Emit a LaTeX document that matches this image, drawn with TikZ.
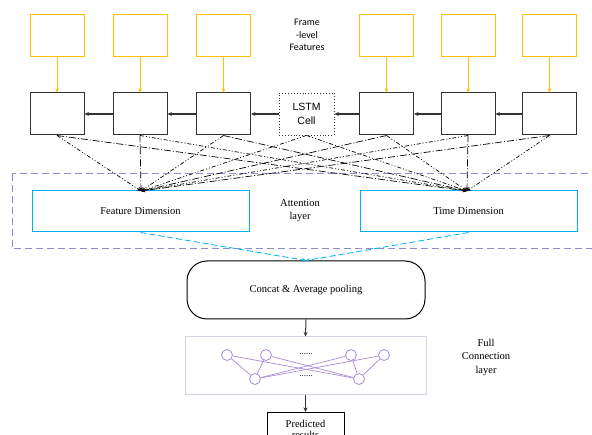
\documentclass[tikz,border=0pt]{standalone}
\usepackage{fontspec}
\setmainfont{Liberation Serif}
\newfontfamily\carl{Carlito}
\newfontfamily\arialf{Liberation Sans}
\usetikzlibrary{arrows.meta}
\definecolor{featyel}{HTML}{FFC000}
\definecolor{attcyan}{HTML}{00B0F0}
\definecolor{attpurp}{HTML}{8C8CCC}
\definecolor{nnpurp}{HTML}{A98BD3}
\definecolor{fcgray}{HTML}{D6D2E4}
\definecolor{boxgray}{HTML}{333333}
\tikzset{
  featbox/.style={draw=featyel, line width=0.9pt, minimum width=54pt, minimum height=42pt, inner sep=0pt},
  cellbox/.style={draw=boxgray, line width=1pt, minimum width=54pt, minimum height=42pt, inner sep=0pt},
  lstmbox/.style={draw=boxgray, dotted, line width=0.9pt, minimum width=55pt, minimum height=42pt, inner sep=0pt, font=\arialf\fontsize{10.5}{14}\selectfont, align=center},
  yarrow/.style={draw=featyel, line width=0.8pt, -{Stealth[length=4pt,width=3.5pt]}},
  harrow/.style={draw=boxgray, line width=1.2pt, -{Stealth[length=4.5pt,width=4pt]}},
  connA/.style={black, line width=0.7pt, dash pattern=on 4pt off 2pt on 1pt off 2pt on 1pt off 2pt, -{Stealth[length=4pt,width=3.5pt]}},
  connB/.style={black, line width=0.7pt, dash pattern=on 7pt off 2pt on 1pt off 2pt, -{Stealth[length=4pt,width=3.5pt]}},
  dimbox/.style={draw=attcyan, line width=1pt, minimum width=217pt, minimum height=41pt, inner sep=0pt, font=\fontsize{10.5}{13}\selectfont},
  cyarrow/.style={draw=attcyan, line width=0.8pt, dash pattern=on 6pt off 3pt, -{Stealth[length=4pt,width=3.5pt]}},
  plainarrow/.style={draw=boxgray, line width=1pt, -{Stealth[length=4.5pt,width=4pt]}},
  neuron/.style={circle, draw=nnpurp, line width=0.8pt, minimum size=11pt, inner sep=0pt},
  nnline/.style={draw=nnpurp, line width=0.7pt},
  lbl/.style={align=center, font=\fontsize{10.5}{13}\selectfont}
}
\begin{document}
\begin{tikzpicture}[x=1pt,y=-1pt]
\clip (0,0) rectangle (592,435);
\fill[white] (0,0) rectangle (592,435);

% frame-level feature boxes
\node[featbox] (f1) at (57,35) {};
\node[featbox] (f2) at (140,35) {};
\node[featbox] (f3) at (223.5,35) {};
\node[featbox] (f5) at (386.5,35) {};
\node[featbox] (f6) at (468,35) {};
\node[featbox] (f7) at (549.5,35) {};
\node[align=center, font=\carl\fontsize{10}{12.5}\selectfont] (ftxt) at (307,35) {Frame\\-level\\Features};

% LSTM cells
\node[cellbox] (c1) at (57,114) {};
\node[cellbox] (c2) at (140,114) {};
\node[cellbox] (c3) at (223.5,114) {};
\node[lstmbox] (c4) at (306.5,114) {LSTM\\Cell};
\node[cellbox] (c5) at (386.5,114) {};
\node[cellbox] (c6) at (468,114) {};
\node[cellbox] (c7) at (549.5,114) {};

\foreach \i in {1,2,3,5,6,7} { \draw[yarrow] (f\i.south) -- (c\i.north); }
\draw[harrow] (c2.west) -- (c1.east);
\draw[harrow] (c3.west) -- (c2.east);
\draw[harrow] (c4.west) -- (c3.east);
\draw[harrow] (c5.west) -- (c4.east);
\draw[harrow] (c6.west) -- (c5.east);
\draw[harrow] (c7.west) -- (c6.east);

% attention layer
\draw[attpurp, line width=1pt, dash pattern=on 7pt off 4pt] (12,174) rectangle (610,249);
\node[dimbox] (fd) at (140.5,211.5) {Feature Dimension};
\node[dimbox] (td) at (468.5,211.5) {Time Dimension};
\node[lbl] (atxt) at (300,211) {Attention\\layer};
\coordinate (fdt) at (141,191);
\coordinate (tdt) at (467,191);

\draw[connA] (c1.south) -- (fdt);
\draw[connB] (c2.south) -- (fdt);
\draw[connA] (c3.south) -- (fdt);
\draw[connA] (c4.south) -- (fdt);
\draw[connB] (c5.south) -- (fdt);
\draw[connA] (c6.south) -- (fdt);
\draw[connB] (c7.south) -- (fdt);

\draw[connB] (c1.south) -- (tdt);
\draw[connA] (c2.south) -- (tdt);
\draw[connB] (c3.south) -- (tdt);
\draw[connA] (c4.south) -- (tdt);
\draw[connA] (c5.south) -- (tdt);
\draw[connB] (c6.south) -- (tdt);
\draw[connA] (c7.south) -- (tdt);

% concat
\node[draw=black, line width=1pt, rounded corners=20pt, minimum width=238pt, minimum height=58pt, inner sep=0pt, font=\fontsize{10.5}{13}\selectfont] (cc) at (306,290) {Concat \& Average pooling};
\draw[cyarrow] (fd.south) -- (cc.north);
\draw[cyarrow] (td.south) -- (cc.north);

% full connection
\node[draw=fcgray, line width=1pt, minimum width=241pt, minimum height=58pt, inner sep=0pt] (fc) at (305.5,366) {};
\draw[plainarrow] (cc.south) -- (fc.north);
\node[neuron] (t1) at (227,355) {};
\node[neuron] (t2) at (266,355) {};
\node[neuron] (t3) at (351,355) {};
\node[neuron] (t4) at (384,355) {};
\node[neuron] (b1) at (255,379) {};
\node[neuron] (b2) at (359,379) {};
\foreach \t in {t1,t2,t3,t4} {
  \draw[nnline] (\t) -- (b1);
  \draw[nnline] (\t) -- (b2);
}
\node[font=\fontsize{9}{10}\selectfont] (d1) at (306,355) {\raisebox{2pt}{......}};
\node[font=\fontsize{9}{10}\selectfont] (d2) at (306,377) {\raisebox{2pt}{......}};
\node[lbl, font=\fontsize{10.5}{13.5}\selectfont] (fctxt) at (486,357) {Full\\Connection\\layer};

% predicted
\node[draw=black, line width=1pt, minimum width=77pt, minimum height=34pt, inner sep=0pt, anchor=north, align=center, font=\fontsize{10.5}{11.5}\selectfont] (pr) at (305.5,412) {Predicted\\results};
\draw[plainarrow] (fc.south) -- (pr.north);
\end{tikzpicture}
\end{document}
